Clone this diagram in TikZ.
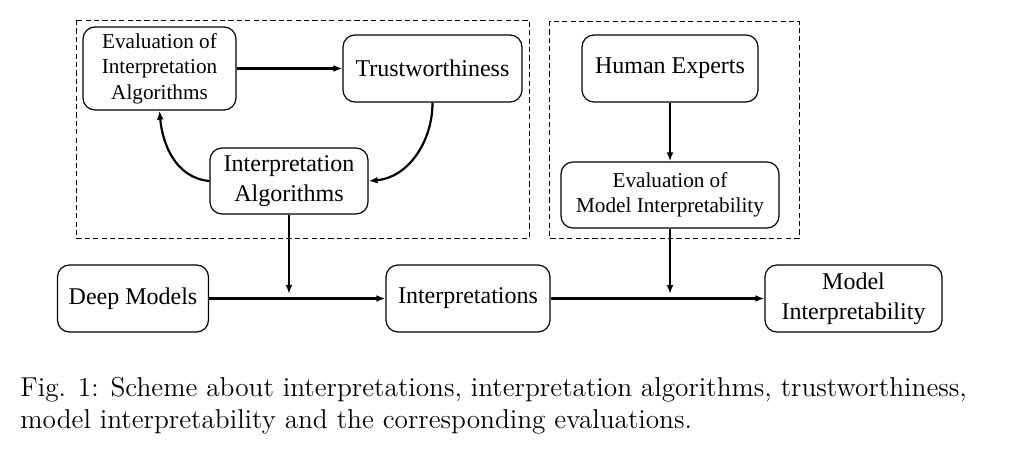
\documentclass[tikz,border=0pt]{standalone}
\usepackage{fontspec}
\newfontfamily\timesf{Liberation Serif}
\usetikzlibrary{arrows.meta}
\tikzset{
  box/.style={draw, line width=0.6pt, rounded corners=6pt, align=center, inner sep=2pt,
    font=\timesf\fontsize{12}{14.8}\selectfont},
  evbox/.style={box, font=\timesf\fontsize{10.6}{12.8}\selectfont},
  conn/.style={line width=1.1pt, -{Latex[length=4.5pt,width=3.4pt]}},
  group/.style={draw, line width=0.5pt, dash pattern=on 2.6pt off 1.6pt},
}
\begin{document}
\begin{tikzpicture}[x=0.5pt,y=-0.5pt]
\useasboundingbox (0,0) rectangle (1019,466);
% groups
\draw[group] (76,20) rectangle (529,238);
\draw[group] (549,21) rectangle (799,238);
% nodes
\node[evbox, minimum width=76.5pt, minimum height=41.5pt] (evalIA) at (159.5,68.5) {Evaluation of\\Interpretation\\Algorithms};
\node[box, minimum width=89.5pt, minimum height=33.5pt] (trust) at (432.5,68.5) {Trustworthiness};
\node[box, minimum width=79pt, minimum height=33pt] (ialg) at (289,181) {Interpretation\\Algorithms};
\node[box, minimum width=88pt, minimum height=33.5pt] (human) at (670,68.5) {Human Experts};
\node[evbox, minimum width=109pt, minimum height=33pt] (evalMI) at (670,195) {Evaluation of\\Model Interpretability};
\node[box, minimum width=75.5pt, minimum height=33.5pt] (deep) at (133,298.5) {Deep Models};
\node[box, minimum width=82pt, minimum height=33.5pt] (interp) at (468,298.5) {Interpretations};
\node[box, minimum width=88.5pt, minimum height=33.5pt] (modelI) at (853.5,298.5) {Model\\Interpretability};
% junction points
\coordinate (j1) at (289,294);
\coordinate (j2) at (670,294);
% connectors
\draw[conn] (evalIA) -- (trust);
\draw[conn] (trust.south) to[out=-90, in=5] (ialg.east);
\draw[conn] (ialg.west) to[out=175, in=-85] (evalIA.south);
\draw[conn] (human) -- (evalMI);
\draw[conn] (ialg.south) -- (j1);
\draw[conn] (evalMI.south) -- (j2);
\draw[conn] (deep) -- (interp);
\draw[conn] (interp) -- (modelI);
% caption
\node[anchor=north west, inner sep=0pt, align=left, font=\fontsize{13.65}{16}\selectfont] (cap) at (20,377)
  {Fig. 1: Scheme about interpretations, interpretation algorithms, trustworthiness,\\model interpretability and the corresponding evaluations.};
\end{tikzpicture}
\end{document}
